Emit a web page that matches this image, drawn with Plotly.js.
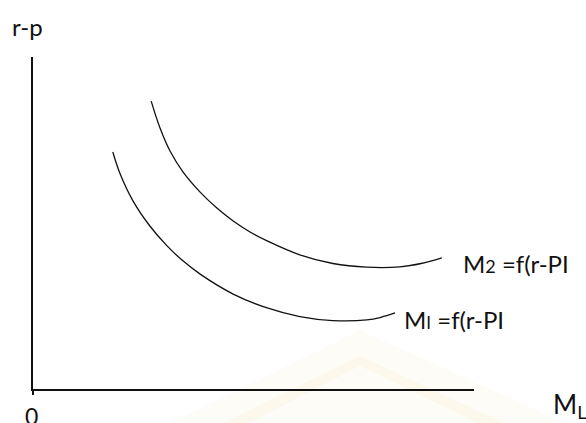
<!DOCTYPE html>
<html>
<head>
<meta charset="utf-8">
<script src="https://cdn.plot.ly/plotly-3.0.1.min.js"></script>
<style>
    html, body { margin: 0; padding: 0; background: #ffffff; }
    #moneyChart { width: 586px; height: 423px; }
</style>
</head>
<body>
<div id="moneyChart"></div>
<script>
/* money demand curves (x = M_L, y = r-p, both 0..100) */
var m2X = [26.8, 28.8, 31.1, 34.0, 37.9, 41.7, 45.4, 49.2, 53.1, 60.5, 68.0, 75.7, 83.2, 88.0, 92.7];
var m2Y = [86.7, 78.6, 71.6, 65.4, 59.3, 54.5, 50.6, 47.3, 44.6, 40.4, 37.8, 36.7, 36.8, 37.8, 39.5];
var m1X = [18.1, 19.7, 22.7, 26.5, 30.4, 34.0, 37.9, 45.4, 53.1, 60.5, 68.0, 75.7, 78.9, 82.1];
var m1Y = [71.4, 65.0, 56.6, 49.1, 43.1, 38.6, 34.6, 28.6, 24.4, 21.8, 20.6, 20.8, 21.6, 22.9];

var m2Label = "M<span style='font-size:18px'>2</span> =f(r-PI";
var m1Label = "M<span style='font-size:17px'>I</span> =f(r-PI";
var yLabel = "r-p";
var xLabel = "M<sub>L</sub>";
var originLabel = "0";

var textFont = {family: "Lato, 'Open Sans', sans-serif", size: 24, color: "#111111"};

/*
 * Build one curve trace
 */
function curveTrace(xs, ys) {
    return {
        x: xs,
        y: ys,
        mode: 'lines',
        line: {
            color: '#111111',
            width: 1.3,
            shape: 'spline',
            smoothing: 1
        },
        hoverinfo: 'skip',
        showlegend: false
    };
}

/*
 * Label placed just after the last point of a curve
 */
function endLabel(xs, ys, text, xshift, yshift) {
    return {
        x: xs[xs.length - 1],
        y: ys[ys.length - 1],
        xref: 'x',
        yref: 'y',
        text: text,
        showarrow: false,
        xanchor: 'left',
        yanchor: 'middle',
        xshift: xshift,
        yshift: yshift,
        font: textFont
    };
}

function drawChart() {
    var data = [curveTrace(m2X, m2Y), curveTrace(m1X, m1Y)];
    var layout = {
        width: 586,
        height: 423,
        margin: {l: 33, r: 112, t: 57, b: 34},
        paper_bgcolor: '#ffffff',
        plot_bgcolor: 'rgba(0,0,0,0)',
        xaxis: {
            range: [0, 100],
            showgrid: false,
            zeroline: false,
            showline: true,
            linecolor: '#111111',
            linewidth: 2,
            tickvals: [0],
            ticks: 'outside',
            ticklen: 4,
            tickwidth: 2,
            tickcolor: '#111111',
            showticklabels: false,
            fixedrange: true
        },
        yaxis: {
            range: [0, 100],
            showgrid: false,
            zeroline: false,
            showline: true,
            linecolor: '#111111',
            linewidth: 2,
            showticklabels: false,
            ticks: '',
            fixedrange: true
        },
        shapes: [
            /* faint watermark chevrons behind the chart */
            {type: 'path', xref: 'paper', yref: 'paper', layer: 'below',
             path: 'M 0.30 -0.11 L 0.741 0.178 L 1.22 -0.11 Z',
             fillcolor: '#fefcf6', line: {width: 0}},
            {type: 'path', xref: 'paper', yref: 'paper', layer: 'below',
             path: 'M 0.42 -0.11 L 0.741 0.10 L 1.08 -0.11 L 1.02 -0.11 L 0.741 0.07 L 0.48 -0.11 Z',
             fillcolor: '#fcf8ec', line: {width: 0}}
        ],
        annotations: [
            endLabel(m2X, m2Y, m2Label, 19, -6),
            endLabel(m1X, m1Y, m1Label, 7, -7),
            {x: -0.012, y: 1.093, xref: 'paper', yref: 'paper', text: yLabel,
             showarrow: false, xanchor: 'center', yanchor: 'middle', font: textFont},
            {x: 1.175, y: -0.05, xref: 'paper', yref: 'paper', text: xLabel,
             showarrow: false, xanchor: 'left', yanchor: 'middle',
             font: {family: textFont.family, size: 26, color: '#111111'}},
            {x: -0.004, y: -0.082, xref: 'paper', yref: 'paper', text: originLabel,
             showarrow: false, xanchor: 'center', yanchor: 'middle',
             font: {family: textFont.family, size: 23, color: '#111111'}}
        ]
    };
    Plotly.newPlot('moneyChart', data, layout, {displayModeBar: false, staticPlot: true});
}

drawChart();
</script>
</body>
</html>
